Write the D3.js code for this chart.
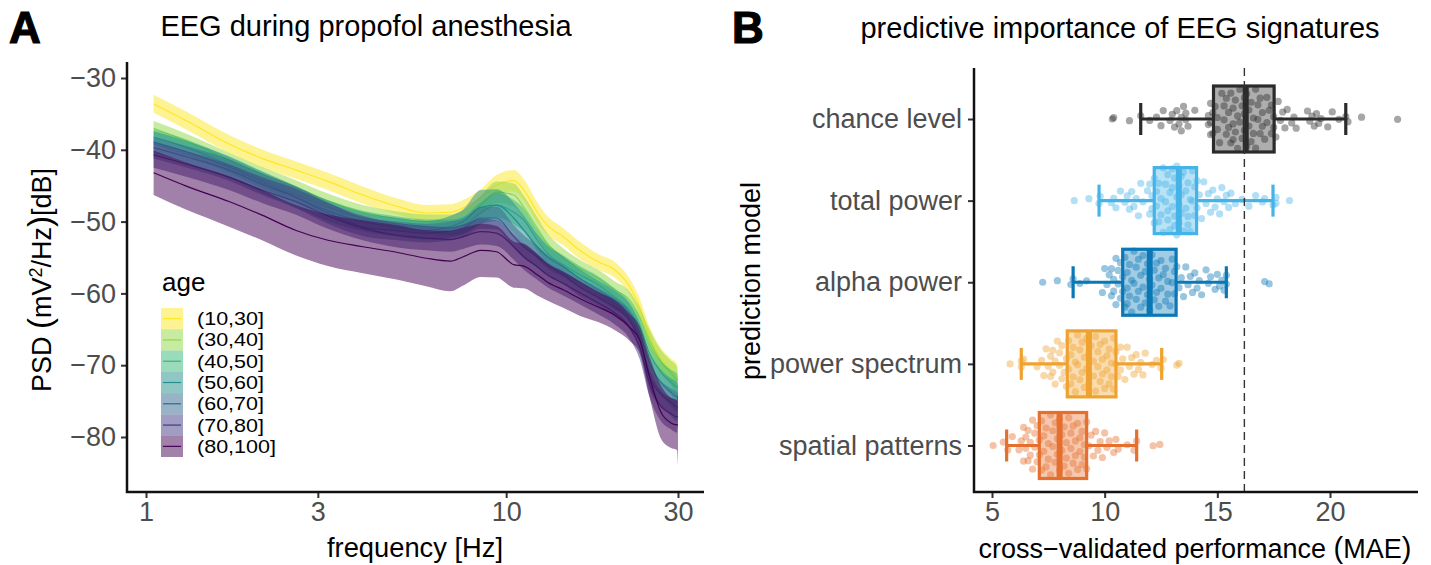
<!DOCTYPE html>
<html>
<head>
<meta charset="utf-8">
<script src="https://cdn.jsdelivr.net/npm/d3@7"></script>
<style>
  body { margin: 0; background: #fff; }
  text { font-family: "Liberation Sans", Arial, sans-serif; }
</style>
</head>
<body>
<div id="chart"></div>
<script>
// panel A: spectra per age group
const ageGroups = ['(10,30]', '(30,40]', '(40,50]', '(50,60]', '(60,70]', '(70,80]', '(80,100]'];
const ageColors = ['#FDE725', '#8FD744', '#35B779', '#21908C', '#31688E', '#443A83', '#440154'];
const freqs = [1.05, 1.3, 1.7, 2.1, 2.6, 3.2, 4, 5, 6, 7, 7.6, 8.5, 9.4, 10.5, 11.2, 12.2, 13, 14.4, 16, 18, 20, 22, 23.5, 25, 27, 28.6, 29.8, 30];

const psd10 = [-33.6, -36, -39.2, -41.2, -42.8, -44.4, -46.3, -47.9, -48.8, -48.7, -48.1, -46.7, -44.9, -44.3, -45.6, -48.7, -50.5, -52.1, -54, -55.6, -56.7, -59, -61.9, -66, -69.3, -70.7, -71.6, -71.6];
const psd30 = [-37, -38.8, -41.4, -43.4, -45.2, -47.1, -48.7, -49.6, -50, -50, -49.5, -47.7, -45.9, -46.3, -48, -50.9, -53, -55, -56.5, -57.9, -59.5, -60.9, -63.3, -66.5, -69.6, -71, -72, -72];
const psd40 = [-38.2, -39.7, -42.1, -44.2, -46.2, -48, -49.5, -50.3, -50.7, -50.8, -50.5, -48.8, -47.7, -48.7, -49.8, -52.6, -54.4, -56, -57.4, -58.8, -60.5, -62.3, -64.7, -68.3, -71.1, -72.3, -73, -73];
const psd50 = [-38.9, -40.3, -42.4, -44.5, -46.5, -48.5, -50, -50.8, -51.2, -50.7, -50, -48, -47.7, -49.5, -51.2, -53.5, -54.9, -56.3, -57.9, -59.5, -60.9, -62.7, -65.5, -69.7, -72.5, -73.7, -74.4, -74.4];
const psd60 = [-39.7, -41, -42.8, -44.8, -46.6, -48.8, -50.7, -51.3, -51.6, -51.3, -50.9, -49.5, -49.5, -52.1, -53.5, -54.9, -56, -57.4, -59.1, -60.5, -61.9, -63.7, -66.5, -71.6, -74.1, -75.1, -75.8, -75.8];
const psd70 = [-40.7, -42, -43.8, -45.6, -47.2, -49.2, -50.9, -51.9, -52.3, -52.5, -52.1, -51.4, -51.6, -53.5, -54.9, -56.3, -57.4, -58.6, -59.9, -61.3, -62.7, -64.7, -67.5, -72.5, -75.8, -76.7, -77.2, -77.2];
const psd80 = [-43.2, -45.1, -47.2, -49.1, -51.2, -52.6, -53.5, -54.3, -55.1, -55.5, -54.9, -54, -54.2, -56, -56.2, -57.4, -58.4, -59.5, -60.7, -61.9, -63, -64.7, -66.5, -71.6, -76.7, -78, -78.3, -78.3];
const psdMeans = [psd10, psd30, psd40, psd50, psd60, psd70, psd80];

// half width of the ribbons, one per age group
const spread10 = [1.25, 1.25, 1.25, 1.25, 1.2, 1.2, 1.2, 1.1, 1.1, 1.1, 1.1, 1.2, 1.4, 1.5, 1.5, 1.4, 1.3, 1.2, 1.2, 1.1, 1.1, 1.1, 1.2, 1.4, 1.6, 1.7, 1.8, 0.3];
const spread30 = [1, 1, 1, 1, 1, 1, 1, 1, 1, 1, 1.1, 1.3, 1.5, 1.6, 1.6, 1.5, 1.4, 1.3, 1.2, 1.2, 1.2, 1.2, 1.3, 1.5, 1.6, 1.7, 1.8, 0.3];
const spread40 = [1.1, 1.1, 1.1, 1.1, 1.1, 1, 1, 1, 1, 1.1, 1.2, 1.5, 1.7, 1.7, 1.6, 1.5, 1.4, 1.3, 1.2, 1.2, 1.2, 1.2, 1.3, 1.5, 1.6, 1.7, 1.8, 0.3];
const spread50 = [1.5, 1.5, 1.5, 1.5, 1.5, 1.4, 1.3, 1.3, 1.3, 1.5, 1.7, 2.4, 2.2, 2.1, 2, 1.7, 1.6, 1.4, 1.3, 1.3, 1.3, 1.3, 1.4, 1.6, 1.8, 1.9, 2, 0.3];
const spread60 = [1.5, 1.5, 1.5, 1.5, 1.5, 1.5, 1.3, 1.3, 1.3, 1.3, 1.3, 1.5, 1.6, 1.6, 1.6, 1.5, 1.4, 1.3, 1.3, 1.3, 1.3, 1.3, 1.4, 1.7, 1.8, 1.9, 2, 0.3];
const spread70 = [1.8, 1.8, 1.8, 1.8, 1.8, 1.8, 1.7, 1.7, 1.7, 1.7, 1.7, 1.8, 1.8, 1.8, 1.8, 1.8, 1.7, 1.7, 1.6, 1.6, 1.6, 1.6, 1.7, 1.9, 2.1, 2.2, 2.2, 0.3];
const spread80 = [3.1, 3.3, 3.5, 3.5, 3.5, 3.6, 3.7, 3.8, 3.9, 4.2, 4, 3.7, 3.6, 3.2, 3.1, 2.9, 2.6, 2.5, 2.4, 2.1, 2.1, 1.9, 1.9, 2.8, 3.7, 3.5, 3.5, 5.7];
const psdSpreads = [spread10, spread30, spread40, spread50, spread60, spread70, spread80];

// panel B: one value per cross-validation split
const models = ['chance level', 'total power', 'alpha power', 'power spectrum', 'spatial patterns'];
const modelColors = ['#2b2b2b', '#45B3E8', '#0A78B6', '#EFA230', '#E56F2E'];
const chanceMean = 16.2;

const q1s = [14.83, 12.2, 10.8, 8.34, 7.1];
const medians = [16.26, 13.29, 12.0, 9.3, 8.0];
const q3s = [17.52, 14.08, 13.17, 10.5, 9.2];
const whiskerLow = [11.6, 9.75, 8.6, 6.3, 5.65];
const whiskerHigh = [20.7, 17.47, 15.4, 12.53, 11.42];

const chanceScores = [10.34, 10.4, 11.1, 11.6, 12, 12.3, 12.5, 12.6, 12.9, 13, 13.1, 13.2, 13.3, 13.4, 13.4, 13.5, 13.6, 13.6, 13.7, 14, 14.6, 14.6, 14.7, 14.7, 14.7, 14.8, 14.8, 14.9, 15, 15, 15.1, 15.2, 15.3, 15.3, 15.4, 15.4, 15.5, 15.5, 15.6, 15.6, 15.7, 15.7, 15.7, 15.8, 15.8, 15.9, 15.9, 16, 16, 16.1, 16.1, 16.2, 16.2, 16.2, 16.3, 16.3, 16.4, 16.4, 16.5, 16.5, 16.6, 16.6, 16.7, 16.7, 16.8, 16.8, 16.9, 16.9, 17, 17, 17.1, 17.2, 17.2, 17.3, 17.4, 17.4, 17.5, 17.5, 17.6, 17.7, 17.8, 17.9, 18, 18.1, 18.3, 18.4, 18.5, 19, 19.1, 19.2, 19.3, 19.4, 19.5, 19.6, 19.9, 20.1, 20.4, 20.7, 20.8, 21.4, 23];
const totalScores = [8.65, 9.3, 9.75, 9.8, 10.3, 10.4, 10.5, 10.7, 10.9, 11, 11.1, 11.2, 11.3, 11.4, 11.5, 11.6, 11.7, 11.9, 12, 12, 12.1, 12.1, 12.2, 12.2, 12.3, 12.3, 12.4, 12.4, 12.5, 12.5, 12.6, 12.6, 12.7, 12.7, 12.8, 12.8, 12.8, 12.9, 12.9, 13, 13, 13, 13.1, 13.1, 13.1, 13.2, 13.2, 13.2, 13.3, 13.3, 13.3, 13.4, 13.4, 13.4, 13.5, 13.5, 13.6, 13.6, 13.7, 13.7, 13.7, 13.8, 13.8, 13.9, 13.9, 14, 14, 14.1, 14.1, 14.2, 14.3, 14.4, 14.5, 14.6, 14.7, 14.8, 14.9, 15, 15.1, 15.2, 15.3, 15.4, 15.5, 15.6, 15.8, 16.1, 16.4, 16.7, 17, 17.1, 17.47, 17.6, 17.6, 18.2];
const alphaScores = [7.25, 7.9, 8.5, 8.6, 8.9, 9.2, 9.9, 10, 10.1, 10.2, 10.3, 10.3, 10.4, 10.4, 10.5, 10.5, 10.6, 10.6, 10.7, 10.7, 10.8, 10.8, 10.9, 10.9, 11, 11, 11, 11.1, 11.1, 11.2, 11.2, 11.3, 11.3, 11.4, 11.4, 11.5, 11.5, 11.6, 11.6, 11.7, 11.7, 11.8, 11.8, 11.9, 11.9, 12, 12, 12.1, 12.1, 12.2, 12.2, 12.3, 12.3, 12.4, 12.4, 12.5, 12.5, 12.6, 12.7, 12.7, 12.8, 12.8, 12.9, 13, 13, 13.1, 13.1, 13.2, 13.3, 13.4, 13.5, 13.6, 13.7, 13.8, 13.9, 14, 14.1, 14.2, 14.3, 14.5, 14.6, 14.7, 14.9, 15, 15.1, 15.2, 15.3, 15.4, 15.4, 17.1, 17.3];
const spectrumScores = [5.8, 6.3, 6.3, 6.4, 7, 7.2, 7.3, 7.4, 7.5, 7.6, 7.6, 7.7, 7.7, 7.8, 7.8, 7.9, 8, 8, 8.1, 8.1, 8.2, 8.3, 8.3, 8.4, 8.4, 8.5, 8.5, 8.6, 8.6, 8.7, 8.7, 8.8, 8.8, 8.9, 8.9, 9, 9, 9.1, 9.1, 9.2, 9.2, 9.3, 9.3, 9.4, 9.5, 9.5, 9.6, 9.6, 9.7, 9.7, 9.8, 9.8, 9.9, 9.9, 10, 10, 10.1, 10.1, 10.2, 10.2, 10.3, 10.3, 10.4, 10.4, 10.5, 10.5, 10.6, 10.7, 10.7, 10.8, 10.9, 11, 11.1, 11.2, 11.3, 11.4, 11.5, 11.6, 11.7, 11.8, 12.1, 12.3, 12.5, 12.6, 13.2, 13.3];
const spatialScores = [5.05, 5.5, 5.7, 5.9, 6.2, 6.3, 6.4, 6.4, 6.5, 6.5, 6.6, 6.6, 6.7, 6.7, 6.8, 6.8, 6.9, 6.9, 7, 7, 7.1, 7.1, 7.2, 7.2, 7.3, 7.3, 7.4, 7.4, 7.5, 7.5, 7.6, 7.6, 7.7, 7.7, 7.8, 7.8, 7.9, 7.9, 8, 8, 8.1, 8.1, 8.2, 8.2, 8.3, 8.3, 8.4, 8.4, 8.5, 8.5, 8.6, 8.6, 8.7, 8.7, 8.8, 8.8, 8.9, 8.9, 9, 9, 9.1, 9.1, 9.2, 9.2, 9.3, 9.4, 9.5, 9.6, 9.7, 9.8, 9.9, 10, 10.1, 10.2, 10.4, 10.5, 10.6, 11, 11.3, 11.42, 12.15, 12.45];
const modelScores = [chanceScores, totalScores, alphaScores, spectrumScores, spatialScores];

const svg = d3.select('#chart').append('svg')
  .attr('width', 1431)
  .attr('height', 565)
  .style('display', 'block');

// ---- panel A ----
const xA = d3.scaleLog().domain([1, 30]).range([146, 678]);
const yA = d3.scaleLinear().domain([-30, -80]).range([78, 437]);

ageGroups.forEach((g, i) => {
  const rows = freqs.map((f, j) => ({ f, m: psdMeans[i][j], s: psdSpreads[i][j] }));
  svg.append('path')
    .attr('d', d3.area().x(d => xA(d.f)).y0(d => yA(d.m - d.s)).y1(d => yA(d.m + d.s)).curve(d3.curveMonotoneX)(rows))
    .attr('fill', ageColors[i])
    .attr('fill-opacity', 0.5);
  svg.append('path')
    .attr('d', d3.line().x(d => xA(d.f)).y(d => yA(d.m)).curve(d3.curveMonotoneX)(rows))
    .attr('fill', 'none')
    .attr('stroke', ageColors[i])
    .attr('stroke-width', 1.2);
});

function styleAxis(g) {
  g.selectAll('.domain').remove();
  g.selectAll('line').attr('stroke', '#333').attr('stroke-width', 2);
  g.selectAll('text').attr('fill', '#4d4d4d').style('font-size', '27px');
}

svg.append('g')
  .attr('transform', 'translate(0,492)')
  .call(d3.axisBottom(xA).tickValues([1, 3, 10, 30]).tickFormat(d3.format('d')).tickSize(6).tickPadding(4))
  .call(styleAxis);
svg.append('g')
  .attr('transform', 'translate(127,0)')
  .call(d3.axisLeft(yA).tickValues([-30, -40, -50, -60, -70, -80]).tickFormat(d => '\u2212' + Math.abs(d)).tickSize(6).tickPadding(5))
  .call(styleAxis);
svg.append('path').attr('d', 'M127,62V492H704').attr('fill', 'none').attr('stroke', '#111').attr('stroke-width', 2.5);

svg.append('text').attr('x', 366).attr('y', 36).attr('text-anchor', 'middle').style('font-size', '29px').text('EEG during propofol anesthesia');
svg.append('text').attr('x', 415).attr('y', 557).attr('text-anchor', 'middle').style('font-size', '27.3px').text('frequency [Hz]');
const yLabel = svg.append('text').attr('transform', 'translate(51,280) rotate(-90)').attr('text-anchor', 'middle').style('font-size', '27px');
yLabel.append('tspan').text('PSD ');
yLabel.append('tspan').style('font-size', '33px').text('(');
yLabel.append('tspan').text('mV');
yLabel.append('tspan').attr('dy', -9).style('font-size', '18px').text('2');
yLabel.append('tspan').attr('dy', 9).text('/Hz');
yLabel.append('tspan').style('font-size', '33px').text(')');
yLabel.append('tspan').text('[dB]');

// legend
svg.append('text').attr('x', 162).attr('y', 291).style('font-size', '26px').text('age');
const keyY = d3.scaleBand().domain(ageGroups).range([308, 457]);
ageGroups.forEach((g, i) => {
  const top = keyY(g);
  svg.append('rect').attr('x', 161).attr('y', top).attr('width', 22).attr('height', keyY.bandwidth())
    .attr('fill', ageColors[i]).attr('fill-opacity', 0.5);
  svg.append('line').attr('x1', 163).attr('x2', 181).attr('y1', top + keyY.bandwidth() / 2).attr('y2', top + keyY.bandwidth() / 2)
    .attr('stroke', ageColors[i]).attr('stroke-width', 1.2);
  svg.append('text').attr('x', 197).attr('y', top + keyY.bandwidth() / 2 + 6.5).attr('textLength', g.length > 7 ? 79 : 67)
    .attr('lengthAdjust', 'spacingAndGlyphs').style('font-size', '18.5px').text(g);
});

// ---- panel B ----
const xB = d3.scaleLinear().domain([5, 20]).range([992, 1330]);
const yB = d3.scalePoint().domain(models).range([119, 445.5]);

svg.append('g')
  .attr('transform', 'translate(0,492)')
  .call(d3.axisBottom(xB).tickValues([5, 10, 15, 20]).tickSize(6).tickPadding(4))
  .call(styleAxis);
svg.append('g')
  .attr('transform', 'translate(974,0)')
  .call(d3.axisLeft(yB).tickSize(6).tickPadding(6))
  .call(styleAxis);

// van der Corput sequence spreads the points like a quasirandom plot
function vanDerCorput(n) {
  let v = 0, f = 0.5;
  while (n > 0) { v += f * (n % 2); n = Math.floor(n / 2); f /= 2; }
  return v;
}
const bw = 0.55;
const density = (vals, x) => d3.sum(vals, v => Math.exp(-0.5 * ((x - v) / bw) ** 2));
const maxDensity = d3.max(modelScores, vals => d3.max(vals, v => density(vals, v)));

models.forEach((m, i) => {
  const cy = yB(m);
  const c = modelColors[i];
  const vals = modelScores[i];

  svg.append('g').selectAll('circle')
    .data(vals)
    .join('circle')
    .attr('cx', d => xB(d))
    .attr('cy', (d, k) => cy + (vanDerCorput(k + 1) * 2 - 1) * 38 * density(vals, d) / maxDensity)
    .attr('r', 3.6)
    .attr('fill', c)
    .attr('fill-opacity', 0.42);

  const g = svg.append('g').attr('stroke', c);
  g.append('rect')
    .attr('x', xB(q1s[i]))
    .attr('y', cy - 33)
    .attr('width', xB(q3s[i]) - xB(q1s[i]))
    .attr('height', 66)
    .attr('fill', c)
    .attr('fill-opacity', 0.38)
    .attr('stroke-width', 3.2);
  g.append('line').attr('x1', xB(medians[i])).attr('x2', xB(medians[i])).attr('y1', cy - 33).attr('y2', cy + 33).attr('stroke-width', 6);
  g.append('line').attr('x1', xB(whiskerLow[i])).attr('x2', xB(q1s[i])).attr('y1', cy).attr('y2', cy).attr('stroke-width', 3.2);
  g.append('line').attr('x1', xB(q3s[i])).attr('x2', xB(whiskerHigh[i])).attr('y1', cy).attr('y2', cy).attr('stroke-width', 3.2);
  [whiskerLow[i], whiskerHigh[i]].forEach(w => {
    g.append('line').attr('x1', xB(w)).attr('x2', xB(w)).attr('y1', cy - 16).attr('y2', cy + 16).attr('stroke-width', 3.2);
  });
});

svg.append('line')
  .attr('x1', xB(chanceMean)).attr('x2', xB(chanceMean))
  .attr('y1', 68).attr('y2', 492)
  .attr('stroke', '#333').attr('stroke-width', 1.4).attr('stroke-dasharray', '8 5');

svg.append('path').attr('d', 'M974,68V492H1418').attr('fill', 'none').attr('stroke', '#111').attr('stroke-width', 2.5);

svg.append('text').attr('x', 1120).attr('y', 38).attr('text-anchor', 'middle').style('font-size', '29px').text('predictive importance of EEG signatures');
const xLabelB = svg.append('text').attr('x', 1195).attr('y', 558).attr('text-anchor', 'middle').style('font-size', '27px');
xLabelB.append('tspan').text('cross\u2212validated performance ');
xLabelB.append('tspan').style('font-size', '29px').text('(');
xLabelB.append('tspan').text('MAE');
xLabelB.append('tspan').style('font-size', '29px').text(')');
svg.append('text').attr('transform', 'translate(760,281) rotate(-90)').attr('text-anchor', 'middle').style('font-size', '27px').text('prediction model');

svg.append('text').attr('x', 9).attr('y', 43).style('font-size', '44px').style('font-weight', 'bold').attr('stroke', '#000').attr('stroke-width', 1.2).text('A');
svg.append('text').attr('x', 732).attr('y', 43).style('font-size', '44px').style('font-weight', 'bold').attr('stroke', '#000').attr('stroke-width', 1.2).text('B');
</script>
</body>
</html>
